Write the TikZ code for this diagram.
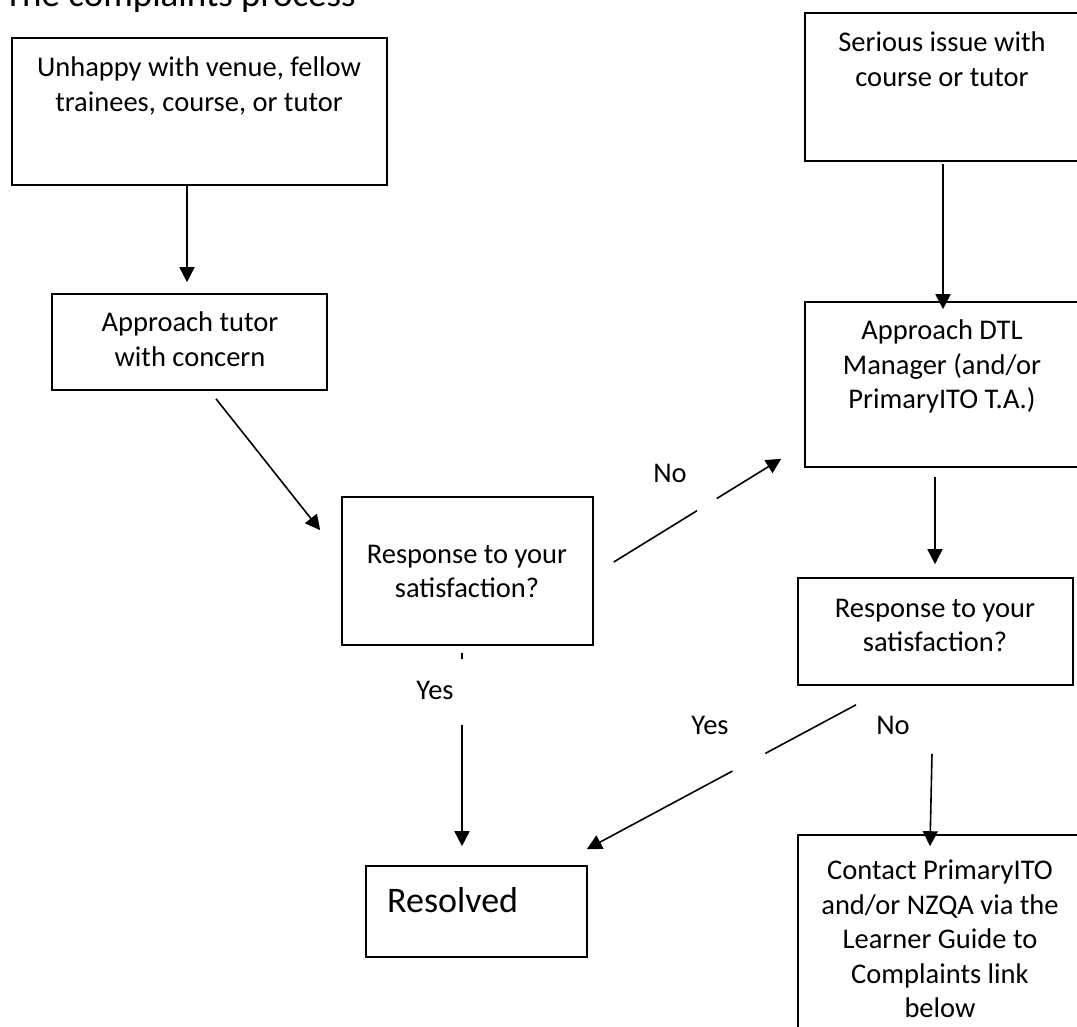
\documentclass[tikz,border=0pt]{standalone}
\usepackage{fontspec}
\setmainfont{Carlito}
\usetikzlibrary{arrows.meta,calc}
\begin{document}
\begin{tikzpicture}[x=1pt,y=-1pt,
  flowbox/.style={draw=black,line width=1.6pt,inner sep=0pt,rectangle},
  txt/.style={font=\fontsize{28.5}{34.5}\selectfont,align=center,inner sep=0pt,anchor=north},
  lbl/.style={font=\fontsize{28.5}{34.5}\selectfont,inner sep=0pt},
  arr/.style={line width=1.6pt,-{Triangle[width=15pt,length=15pt]}},
  ln/.style={line width=1.6pt}
]
\useasboundingbox (0,0) rectangle (1077,1027);
\fill[white] (0,0) rectangle (1077,1027);
\clip (0,0) rectangle (1077,1027);

% title (cut off at the top edge)
\node[font=\fontsize{37}{44}\selectfont,anchor=base west,inner sep=0pt] (title) at (4,7) {The complaints process};

% boxes
\node[flowbox,minimum width=375pt,minimum height=147pt] (b1) at (199.5,111.5) {};
\node[txt] (t1) at (199,57) {Unhappy with venue, fellow\\trainees, course, or tutor};

\node[flowbox,minimum width=274pt,minimum height=148pt] (b2) at (942,87) {};
\node[txt] (t2) at (942,32) {Serious issue with\\course or tutor};

\node[flowbox,minimum width=275pt,minimum height=96pt] (b3) at (189.5,342) {};
\node[txt] (t3) at (190,312) {Approach tutor\\with concern};

\node[flowbox,minimum width=251pt,minimum height=148pt] (b4) at (467.5,571) {};
\node[txt] (t4) at (467,545) {Response to your\\satisfaction?};

\node[flowbox,minimum width=274pt,minimum height=165pt] (b5) at (942,384.5) {};
\node[txt] (t5) at (942,320) {Approach DTL\\Manager (and/or\\PrimaryITO T.A.)};

\node[flowbox,minimum width=275pt,minimum height=107pt] (b6) at (935.5,631.5) {};
\node[txt] (t6) at (935,599) {Response to your\\satisfaction?};

\node[flowbox,minimum width=284pt,minimum height=205pt] (b7) at (940,937.5) {};
\node[txt] (t7) at (940,860) {Contact PrimaryITO\\and/or NZQA via the\\Learner Guide to\\Complaints link\\below};

\node[flowbox,minimum width=221pt,minimum height=91pt] (b8) at (476.5,911.5) {};
\node[font=\fontsize{36}{40}\selectfont,anchor=base west,inner sep=0pt] (t8) at (387,912) {Resolved};

% labels
\node[lbl] (noA) at (670,473) {No};
\node[lbl] (yesA) at (435,690) {Yes};
\node[lbl] (yesB) at (710,725) {Yes};
\node[lbl] (noB) at (893,725) {No};

% connectors
\draw[arr] ([xshift=-12.5pt]b1.south) -- ([xshift=-2.5pt,yshift=11pt]b3.north);
\draw[arr] ([xshift=26.5pt,yshift=-8pt]b3.south) -- ([xshift=-21pt,yshift=-34pt]b4.north west);

\coordinate (n1s) at ([xshift=20pt,yshift=9pt]b4.east);
\coordinate (n1e) at ([xshift=-23pt,yshift=9pt]b5.south west);
\draw[ln] (n1s) -- ($(n1s)!0.497!(n1e)$);
\draw[arr] ($(n1s)!0.615!(n1e)$) -- (n1e);

\draw[arr] ([xshift=1pt,yshift=-2pt]b2.south) -- ([xshift=1pt,yshift=-8pt]b5.north);
\draw[arr] ([xshift=-7pt,yshift=-9pt]b5.south) -- ([xshift=-0.5pt,yshift=13pt]b6.north);

\coordinate (y2s) at ([xshift=-79.5pt,yshift=-19pt]b6.south);
\coordinate (y2e) at ([xshift=-1pt,yshift=16pt]b8.north east);
\draw[ln] (y2s) -- ($(y2s)!0.337!(y2e)$);
\draw[arr] ($(y2s)!0.459!(y2e)$) -- (y2e);

\draw[arr] ([xshift=-3.5pt,yshift=-68pt]b6.south) -- ([xshift=-10pt,yshift=-12pt]b7.north);

\coordinate (y1s) at ([xshift=-5.5pt,yshift=-7pt]b4.south);
\coordinate (y1e) at ([xshift=-14.5pt,yshift=19pt]b8.north);
\draw[ln] (y1s) -- ($(y1s)!0.031!(y1e)$);
\draw[arr] ($(y1s)!0.374!(y1e)$) -- (y1e);
\end{tikzpicture}
\end{document}
